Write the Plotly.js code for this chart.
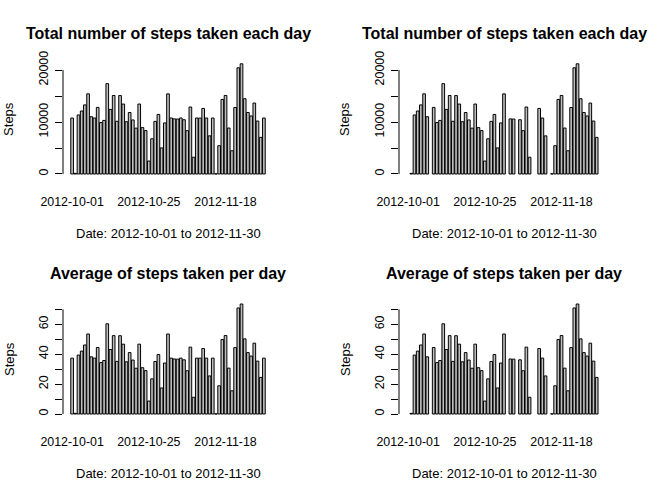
<!DOCTYPE html>
<html>
<head>
<meta charset="utf-8">
<script src="https://cdn.plot.ly/plotly-3.0.1.min.js"></script>
<style>
  html, body { margin: 0; padding: 0; background: #fff; }
  #chart { width: 672px; height: 480px; }
</style>
</head>
<body>
<div id="chart"></div>
<script>
// 61 days, activity monitoring data (Oct–Nov 2012)
const dates = [
  '2012-10-01','2012-10-02','2012-10-03','2012-10-04','2012-10-05','2012-10-06','2012-10-07','2012-10-08',
  '2012-10-09','2012-10-10','2012-10-11','2012-10-12','2012-10-13','2012-10-14','2012-10-15','2012-10-16',
  '2012-10-17','2012-10-18','2012-10-19','2012-10-20','2012-10-21','2012-10-22','2012-10-23','2012-10-24',
  '2012-10-25','2012-10-26','2012-10-27','2012-10-28','2012-10-29','2012-10-30','2012-10-31','2012-11-01',
  '2012-11-02','2012-11-03','2012-11-04','2012-11-05','2012-11-06','2012-11-07','2012-11-08','2012-11-09',
  '2012-11-10','2012-11-11','2012-11-12','2012-11-13','2012-11-14','2012-11-15','2012-11-16','2012-11-17',
  '2012-11-18','2012-11-19','2012-11-20','2012-11-21','2012-11-22','2012-11-23','2012-11-24','2012-11-25',
  '2012-11-26','2012-11-27','2012-11-28','2012-11-29','2012-11-30'
];

// 결측일 채움(좌) / 결측 그대로(우)
const totalFilled = [
  10766, 126, 11352, 12116, 13294, 15420, 11015, 10766, 12811, 9900, 10304, 17382, 12426, 15098, 10139, 15084,
  13452, 10056, 11829, 10395, 8821, 13460, 8918, 8355, 2492, 6778, 10119, 11458, 5018, 9819, 15414, 10766,
  10600, 10571, 10766, 10439, 8334, 12883, 3219, 10766, 10766, 12608, 10765, 7336, 10766, 41, 5441, 14339,
  15110, 8841, 4472, 12787, 20427, 21194, 14478, 11834, 11162, 13646, 10183, 7047, 10766
];
const totalRaw = [
  null, 126, 11352, 12116, 13294, 15420, 11015, null, 12811, 9900, 10304, 17382, 12426, 15098, 10139, 15084,
  13452, 10056, 11829, 10395, 8821, 13460, 8918, 8355, 2492, 6778, 10119, 11458, 5018, 9819, 15414, null,
  10600, 10571, null, 10439, 8334, 12883, 3219, null, null, 12608, 10765, 7336, null, 41, 5441, 14339,
  15110, 8841, 4472, 12787, 20427, 21194, 14478, 11834, 11162, 13646, 10183, 7047, null
];
const avgFilled = [
  37.38, 0.44, 39.42, 42.07, 46.16, 53.54, 38.25, 37.38, 44.48, 34.38, 35.78, 60.35, 43.15, 52.42, 35.20, 52.38,
  46.71, 34.92, 41.07, 36.09, 30.63, 46.74, 30.97, 29.01, 8.65, 23.53, 35.14, 39.78, 17.42, 34.09, 53.52, 37.38,
  36.81, 36.70, 37.38, 36.25, 28.94, 44.73, 11.18, 37.38, 37.38, 43.78, 37.38, 25.47, 37.38, 0.14, 18.89, 49.79,
  52.47, 30.70, 15.53, 44.40, 70.93, 73.59, 50.27, 41.09, 38.76, 47.38, 35.36, 24.47, 37.38
];
const avgRaw = [
  null, 0.44, 39.42, 42.07, 46.16, 53.54, 38.25, null, 44.48, 34.38, 35.78, 60.35, 43.15, 52.42, 35.20, 52.38,
  46.71, 34.92, 41.07, 36.09, 30.63, 46.74, 30.97, 29.01, 8.65, 23.53, 35.14, 39.78, 17.42, 34.09, 53.52, null,
  36.81, 36.70, null, 36.25, 28.94, 44.73, 11.18, null, null, 43.78, 37.38, 25.47, null, 0.14, 18.89, 49.79,
  52.47, 30.70, 15.53, 44.40, 70.93, 73.59, 50.27, 41.09, 38.76, 47.38, 35.36, 24.47, null
];

const xTicks = ['2012-10-01', '2012-10-25', '2012-11-18'];
const totalTicks = [0, 5000, 10000, 15000, 20000];
const totalTickText = ['0', '', '10000', '', '20000'];
const avgTicks = [0, 10, 20, 30, 40, 50, 60, 70];
const avgTickText = ['0', '', '20', '', '40', '', '60', ''];

const titles = ['Total number of steps taken each day', 'Total number of steps taken each day',
  'Average of steps taken per day', 'Average of steps taken per day'];
const xLabel = 'Date: 2012-10-01 to 2012-11-30';
const yLabel = 'Steps';

const FONT = 'Liberation Sans, Arial, Helvetica, sans-serif';
const W = 672, H = 480;

// 패널별 플롯 영역 (px)
const panels = [
  { data: totalFilled, ticks: totalTicks, text: totalTickText, ymax: 21194, left: 63, top: 59.4, bottom: 178.4 },
  { data: totalRaw, ticks: totalTicks, text: totalTickText, ymax: 21194, left: 399, top: 59.4, bottom: 178.4 },
  { data: avgFilled, ticks: avgTicks, text: avgTickText, ymax: 73.59, left: 63, top: 299.6, bottom: 418.4 },
  { data: avgRaw, ticks: avgTicks, text: avgTickText, ymax: 73.59, left: 399, top: 299.6, bottom: 418.4 },
];
const plotW = 210;

const traces = [];
const layout = {
  width: W, height: H, autosize: false,
  margin: { l: 0, r: 0, t: 0, b: 0 },
  paper_bgcolor: '#fff', plot_bgcolor: '#fff',
  font: { family: FONT, size: 12, color: '#000' },
  showlegend: false,
  bargap: 0.2 / 1.2,
  annotations: [],
  shapes: [],
};

panels.forEach((p, i) => {
  const n = i + 1;
  const xa = n === 1 ? 'x' : 'x' + n;
  const ya = n === 1 ? 'y' : 'y' + n;
  traces.push({
    type: 'bar', x: dates, y: p.data, xaxis: xa, yaxis: ya,
    marker: { color: '#bebebe', line: { color: '#000', width: 1 } },
    hoverinfo: 'x+y',
  });
  const xd = [p.left / W, (p.left + plotW) / W];
  const yd = [1 - p.bottom / H, 1 - p.top / H];
  const pad = p.ymax * 0.04;
  layout['xaxis' + (n === 1 ? '' : n)] = {
    domain: xd, anchor: ya, type: 'category',
    range: [-2.85, 62.85], fixedrange: true,
    showline: false, showgrid: false, zeroline: false,
    tickmode: 'array', tickvals: xTicks, ticktext: xTicks,
    ticks: 'outside', ticklen: 12, tickcolor: 'rgba(0,0,0,0)',
    tickangle: 0, tickfont: { size: 12.4 },
  };
  const lastTick = p.ticks[p.ticks.length - 1];
  layout['yaxis' + (n === 1 ? '' : n)] = {
    domain: yd, anchor: xa,
    range: [-pad, p.ymax + pad], fixedrange: true,
    showline: false, showgrid: false, zeroline: false,
    tickmode: 'array', tickvals: p.ticks, ticktext: p.text,
    ticks: 'outside', ticklen: 7, tickcolor: '#000', tickwidth: 1,
    ticklabelstandoff: 2,
    tickangle: -90, tickfont: { size: 12.4 },
  };
  // R 스타일 축선: 첫 눈금~끝 눈금까지만
  layout.shapes.push({
    type: 'line', xref: 'paper', yref: ya,
    x0: xd[0], x1: xd[0], y0: 0, y1: lastTick,
    line: { color: '#000', width: 1 },
  });
  const cx = (xd[0] + xd[1]) / 2;
  layout.annotations.push(
    { text: '<b>' + titles[i] + '</b>', xref: 'paper', yref: 'paper', x: cx, y: 1 - (p.top - 26) / H,
      xanchor: 'center', yanchor: 'middle', showarrow: false, font: { size: 16 } },
    { text: xLabel, xref: 'paper', yref: 'paper', x: cx, y: 1 - (p.bottom + 55) / H,
      xanchor: 'center', yanchor: 'middle', showarrow: false, font: { size: 13 } },
    { text: yLabel, xref: 'paper', yref: 'paper', x: (p.left - 54) / W, y: 1 - ((p.top + p.bottom) / 2) / H,
      xanchor: 'center', yanchor: 'middle', textangle: -90, showarrow: false, font: { size: 13 } },
  );
});

Plotly.newPlot('chart', traces, layout, { displayModeBar: false, staticPlot: true });
</script>
</body>
</html>
